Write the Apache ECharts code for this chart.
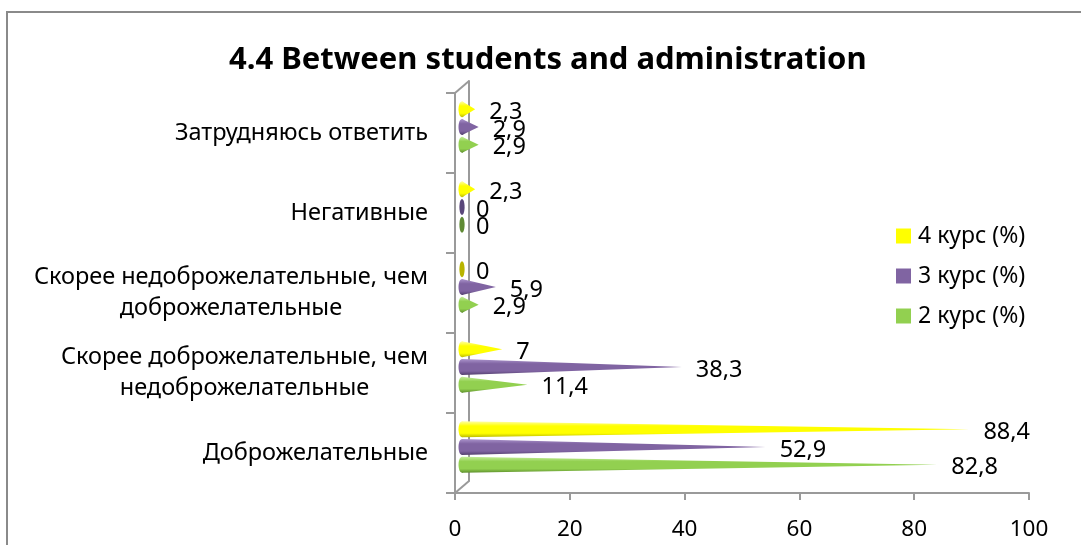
<!DOCTYPE html>
<html>
<head>
<meta charset="utf-8">
<script src="https://cdn.jsdelivr.net/npm/echarts@6/dist/echarts.min.js"></script>
<style>
  html, body { margin: 0; padding: 0; background: #fff; }
  #chart { width: 1081px; height: 545px; }
</style>
</head>
<body>
<div id="chart"></div>
<script>
// Categories listed bottom to top along the vertical axis
const categories = [
  'Доброжелательные',
  'Скорее доброжелательные, чем\nнедоброжелательные',
  'Скорее недоброжелательные, чем\nдоброжелательные',
  'Негативные',
  'Затрудняюсь ответить'
];
const course2 = [82.8, 11.4, 2.9, 0, 2.9];
const course3 = [52.9, 38.3, 5.9, 0, 2.9];
const course4 = [88.4, 7, 0, 2.3, 2.3];
const seriesNames = ['2 курс (%)', '3 курс (%)', '4 курс (%)'];
const legendOrder = ['4 курс (%)', '3 курс (%)', '2 курс (%)'];
const valueMin = 0;
const valueMax = 100;
const valueStep = 20;

const FONT = '"Noto Sans", "DejaVu Sans", sans-serif';
const AXIS_GRAY = '#9a9a9a';

// Plot box: front plane, back wall and the middle plane where the cones sit
const FRONT = { left: 455, top: 93, width: 574, height: 400 };
const DEPTH = { dx: 14, dy: -12 };
const gridAt = (k) => ({
  left: FRONT.left + DEPTH.dx * k,
  top: FRONT.top + DEPTH.dy * k,
  width: FRONT.width,
  height: FRONT.height,
  containLabel: false
});

// Cone shading: light top edge, flat body, darker lower edge
const palettes = [
  { flat: '#92D050', top: '#c3ec98', mid: '#92D050', dark: '#5e8f2c', base: '#5f8a34' },
  { flat: '#8064A2', top: '#ab94cc', mid: '#8064A2', dark: '#54406f', base: '#5a477a' },
  { flat: '#FFFF00', top: '#ffffa8', mid: '#FFFF00', dark: '#bcbc00', base: '#b8b400' }
];

const fmt = (v) => String(v).replace('.', ',');

function coneRenderer(idx) {
  const pal = palettes[idx];
  return function (params, api) {
    const v = api.value(0);
    const cat = api.value(1);
    const start = api.coord([0, cat]);
    const end = api.coord([v, cat]);
    const band = api.size([0, 1])[1];
    const slot = band * 0.222;
    const h = band * 0.2;
    const cy = start[1] + (1 - idx) * slot;
    const x0 = start[0];
    const x1 = end[0];
    const grad = {
      type: 'linear', x: 0, y: 0, x2: 0, y2: 1,
      colorStops: [
        { offset: 0, color: pal.top },
        { offset: 0.3, color: pal.mid },
        { offset: 0.75, color: pal.mid },
        { offset: 1, color: pal.dark }
      ]
    };
    const children = [];
    if (v > 0) {
      children.push({
        type: 'ellipse',
        shape: { cx: x0, cy: cy, rx: 3.5, ry: h / 2 },
        style: { fill: grad }
      });
      children.push({
        type: 'polygon',
        shape: { points: [[x0, cy - h / 2], [x1, cy], [x0, cy + h / 2]] },
        style: { fill: grad }
      });
    } else {
      children.push({
        type: 'ellipse',
        shape: { cx: x0, cy: cy, rx: 2.6, ry: h / 2 },
        style: { fill: pal.base }
      });
    }
    children.push({
      type: 'text',
      z2: 100,
      style: {
        text: fmt(v),
        x: x1 + 14,
        y: cy + 3,
        align: 'left',
        verticalAlign: 'middle',
        fontSize: 23.5,
        fontFamily: FONT,
        fill: '#000'
      }
    });
    return { type: 'group', children: children };
  };
}

const seriesData = [course2, course3, course4];

const chart = echarts.init(document.getElementById('chart'), null, { renderer: 'canvas' });

const hiddenAxis = { show: false };

chart.setOption({
  backgroundColor: '#fff',
  animation: false,
  title: {
    text: '4.4 Between students and administration',
    left: 229,
    top: 45,
    padding: 0,
    textStyle: { fontFamily: FONT, fontSize: 31, fontWeight: 'bold', color: '#000' }
  },
  legend: {
    data: legendOrder,
    orient: 'vertical',
    left: 896,
    top: 224,
    padding: 0,
    icon: 'rect',
    itemWidth: 15,
    itemHeight: 15,
    itemGap: 16,
    selectedMode: false,
    textStyle: { fontFamily: FONT, fontSize: 23, lineHeight: 24, color: '#000', padding: [0, 0, 0, 2] }
  },
  grid: [gridAt(0), gridAt(1), gridAt(0.5)],
  xAxis: [
    {
      gridIndex: 0, type: 'value', min: valueMin, max: valueMax, interval: valueStep,
      axisLine: { show: true, lineStyle: { color: AXIS_GRAY, width: 2 } },
      axisTick: { show: true, length: 7, lineStyle: { color: AXIS_GRAY, width: 2 } },
      splitLine: { show: false },
      axisLabel: { fontFamily: FONT, fontSize: 22.5, color: '#000', margin: 25 }
    },
    Object.assign({ gridIndex: 1, type: 'value', min: valueMin, max: valueMax }, hiddenAxis),
    Object.assign({ gridIndex: 2, type: 'value', min: valueMin, max: valueMax }, hiddenAxis)
  ],
  yAxis: [
    {
      gridIndex: 0, type: 'category', data: categories,
      axisLine: { show: true, lineStyle: { color: AXIS_GRAY, width: 2 } },
      axisTick: { show: true, length: 9, lineStyle: { color: AXIS_GRAY, width: 2 } },
      axisLabel: {
        margin: 27,
        color: '#000',
        fontFamily: FONT,
        fontSize: 23.5,
        formatter: (v) => v.split('\n').map((s) => '{c|' + s + '}').join('\n'),
        rich: { c: { align: 'center', fontFamily: FONT, fontSize: 23.5, lineHeight: 31, color: '#000' } }
      }
    },
    {
      gridIndex: 1, type: 'category', data: categories,
      axisLine: { show: true, lineStyle: { color: AXIS_GRAY, width: 2 } },
      axisTick: { show: false },
      axisLabel: { show: false }
    },
    Object.assign({ gridIndex: 2, type: 'category', data: categories }, hiddenAxis)
  ],
  graphic: [
    {
      type: 'rect', silent: true,
      shape: { x: 7, y: 12, width: 1200, height: 700 },
      style: { fill: 'none', stroke: '#8a8a8a', lineWidth: 2 }
    },
    {
      type: 'line', silent: true,
      shape: { x1: FRONT.left, y1: FRONT.top, x2: FRONT.left + DEPTH.dx, y2: FRONT.top + DEPTH.dy },
      style: { stroke: AXIS_GRAY, lineWidth: 2 }
    },
    {
      type: 'line', silent: true,
      shape: {
        x1: FRONT.left, y1: FRONT.top + FRONT.height,
        x2: FRONT.left + DEPTH.dx, y2: FRONT.top + FRONT.height + DEPTH.dy
      },
      style: { stroke: AXIS_GRAY, lineWidth: 2 }
    }
  ],
  series: seriesNames.map((name, i) => ({
    name: name,
    type: 'custom',
    xAxisIndex: 2,
    yAxisIndex: 2,
    itemStyle: { color: palettes[i].flat },
    encode: { x: 0, y: 1 },
    data: seriesData[i].map((v, k) => [v, k]),
    renderItem: coneRenderer(i)
  }))
});
</script>
</body>
</html>
